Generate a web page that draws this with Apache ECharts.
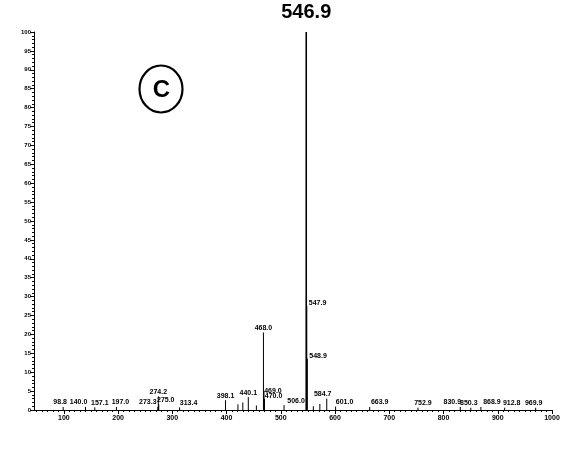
<!DOCTYPE html>
<html><head><meta charset="utf-8">
<script src="https://cdn.jsdelivr.net/npm/echarts@6/dist/echarts.min.js"></script>
<style>html,body{margin:0;padding:0;background:#fff}#c{width:575px;height:459px}</style>
</head><body><div id="c"></div>
<script>
// Labelled peaks (m/z) and relative intensities (%)
var peakMz = [98.8,140.0,157.1,197.0,273.3,274.2,275.0,313.4,398.1,440.1,468.0,469.0,470.0,506.0,546.9,547.9,548.9,584.7,601.0,663.9,752.9,830.9,850.3,868.9,912.8,969.9];
var peakInt = [0.8,0.8,0.7,0.8,0.8,3.6,1.5,0.7,2.6,3.4,20.5,5.0,3.0,1.3,100,27.5,13.6,3.0,0.9,0.8,0.6,0.8,0.6,0.8,0.6,0.6];
// Unlabelled small peaks
var minorMz = [421.0,430.0,455.0,560.0,572.0];
var minorInt = [1.5,2.0,1.2,1.0,1.6];
var xLabelValues = [100,200,300,400,500,600,700,800,900,1000];

var FONT = '"Liberation Sans", Arial, sans-serif';
// label placement tweaks (style only), keyed by label text
var labelStyle = {
  '98.8': {dx: -3}, '140.0': {dx: -7}, '157.1': {dx: 5}, '197.0': {dx: 4},
  '273.3': {dx: -10}, '275.0': {dx: 7}, '313.4': {dx: 9},
  '469.0': {dx: 9, dy: 4}, '470.0': {dx: 9, dy: 2}, '506.0': {dx: 12},
  '546.9': {dx: 0, dy: -9, size: 20},
  '547.9': {dx: 2, dy: 2, align: 'left'},
  '548.9': {dx: 2, dy: 2, align: 'left'},
  '584.7': {dx: -4}, '601.0': {dx: 9}, '663.9': {dx: 10}, '752.9': {dx: 5},
  '830.9': {dx: -8}, '850.3': {dx: -2}, '868.9': {dx: 11}, '912.8': {dx: 7}, '969.9': {dx: -2}
};

var xMinorTicks = [];
for (var t = 50; t <= 1000; t += 10) xMinorTicks.push(t);

var peakData = peakMz.map(function(m, i){ return [m, peakInt[i], 1]; });
var minorData = minorMz.map(function(m, i){ return [m, minorInt[i], 0]; });

function renderItem(params, api) {
  var x = api.value(0), y = api.value(1), lab = api.value(2);
  var p0 = api.coord([x, 0]), p1 = api.coord([x, y]);
  var isMain = y >= 99;
  var children = [{
    type: 'line',
    shape: {x1: p0[0], y1: p0[1], x2: p1[0], y2: p1[1]},
    style: {stroke: '#000', lineWidth: isMain ? 1.6 : 1}
  }];
  if (lab) {
    var txt = x.toFixed(1);
    var st = labelStyle[txt] || {};
    var size = st.size || 7;
    children.push({
      type: 'text',
      style: {
        text: txt,
        x: p1[0] + (st.dx || 0),
        y: p1[1] - 1 + (st.dy || 0),
        align: st.align || 'center',
        verticalAlign: 'bottom',
        font: 'bold ' + size + 'px ' + FONT,
        fill: '#000'
      }
    });
  }
  return {type: 'group', children: children};
}

var chart = echarts.init(document.getElementById('c'), null, {renderer: 'canvas'});
chart.setOption({
  animation: false,
  backgroundColor: '#fff',
  grid: {left: 34, right: 23, top: 32, bottom: 49, containLabel: false},
  xAxis: [{
    type: 'value', min: 45, max: 1000,
    axisLine: {lineStyle: {color: '#000', width: 1}},
    axisTick: {customValues: xLabelValues, length: 4, lineStyle: {color: '#000'}},
    axisLabel: {customValues: xLabelValues, formatter: function(v){ return String(v); }, fontSize: 7, fontWeight: 'bold', color: '#000', fontFamily: FONT, margin: 5},
    splitLine: {show: false}
  }, {
    type: 'value', min: 45, max: 1000, position: 'bottom',
    axisLine: {show: false},
    axisTick: {customValues: xMinorTicks, length: 2, lineStyle: {color: '#000'}},
    axisLabel: {show: false},
    splitLine: {show: false}
  }],
  yAxis: {
    type: 'value', min: 0, max: 100, interval: 5,
    axisLine: {show: true, lineStyle: {color: '#000', width: 1}},
    axisTick: {show: true, length: 4, lineStyle: {color: '#000'}},
    minorTick: {show: true, splitNumber: 5, length: 2, lineStyle: {color: '#000'}},
    axisLabel: {fontSize: 6, fontWeight: 'bold', color: '#000', fontFamily: FONT, margin: 3},
    splitLine: {show: false}
  },
  series: [
    {type: 'custom', renderItem: renderItem, data: minorData, encode: {x: 0, y: 1}, clip: false, z: 2},
    {type: 'custom', renderItem: renderItem, data: peakData, encode: {x: 0, y: 1}, clip: false, z: 3}
  ],
  graphic: [{
    type: 'group', left: 137, top: 63,
    children: [
      {type: 'ellipse', shape: {cx: 22, cy: 24.5, rx: 21.5, ry: 23.5}, style: {fill: 'none', stroke: '#000', lineWidth: 2.2}},
      {type: 'text', style: {text: 'C', x: 22.5, y: 25.5, align: 'center', verticalAlign: 'middle', font: 'bold 24px ' + FONT, fill: '#000'}}
    ]
  }]
});
</script></body></html>
